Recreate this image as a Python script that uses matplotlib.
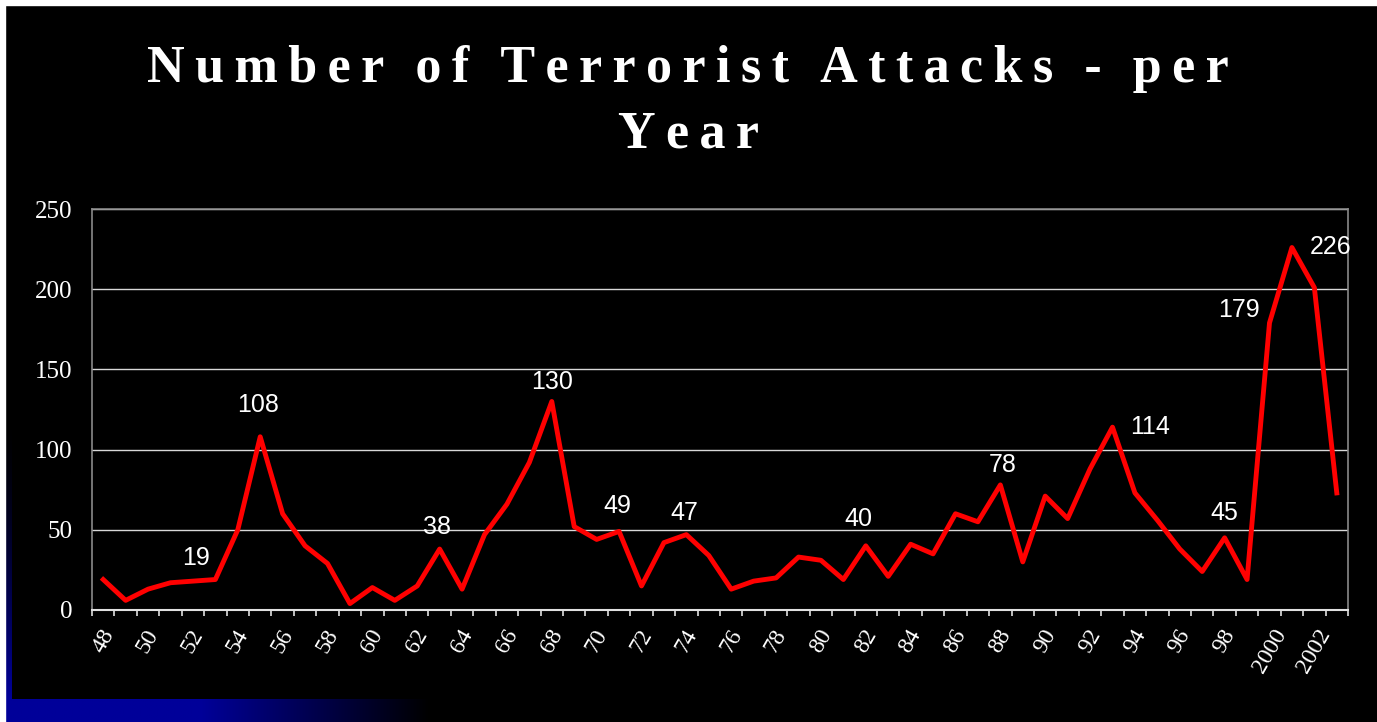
import numpy as np
import matplotlib.pyplot as plt

# Terrorist attacks per year, 1948-2003
years = list(range(1948, 2004))
attacks = [19, 6, 13, 17, 18, 19, 50, 108, 60, 40, 29, 4, 14, 6, 15, 38,
           13, 47, 66, 92, 130, 52, 44, 49, 15, 42, 47, 34, 13, 18, 20, 33,
           31, 19, 40, 21, 41, 35, 60, 55, 78, 30, 71, 57, 88, 114, 73, 56,
           38, 24, 45, 19, 179, 226, 201, 73]
tick_labels = ["48", "50", "52", "54", "56", "58", "60", "62", "64", "66",
               "68", "70", "72", "74", "76", "78", "80", "82", "84", "86",
               "88", "90", "92", "94", "96", "98", "2000", "2002"]
labelled_years = [1953, 1955, 1963, 1968, 1971, 1974, 1982, 1988, 1993,
                  1998, 2000, 2001]

# label offsets in pixels (dx, dy up)
label_offsets = {1953: (-19, 22), 1955: (-2, 32), 1963: (-3, 22),
                 1968: (0, 19), 1971: (-2, 25), 1974: (-2, 22),
                 1982: (-7, 27), 1988: (2, 20), 1993: (38, 0),
                 1998: (0, 25), 2000: (-31, 13), 2001: (39, 0)}

W, H = 1377, 722
fig = plt.figure(figsize=(W / 100, H / 100), dpi=100, facecolor="black")

# slide background decorations (pixel coordinates)
bg = fig.add_axes([0, 0, 1, 1], zorder=0)
bg.set_xlim(0, W)
bg.set_ylim(H, 0)
bg.axis("off")
bg.set_facecolor("black")
xs = np.linspace(0, 1, 300)
g = np.clip((430 - (5 + xs * 425)) / 230, 0, 1)
strip = np.zeros((1, 300, 3))
strip[0, :, 2] = 0.6 * g
bg.imshow(strip, extent=(5, 430, H, 699), aspect="auto", interpolation="bilinear")
ys = np.linspace(0, 1, 200)
side = np.zeros((200, 1, 3))
side[:, 0, 2] = 0.6 * ys ** 1.5
bg.imshow(side, extent=(5, 12, 699, 420), aspect="auto", interpolation="bilinear")
bg.add_patch(plt.Rectangle((0, 0), W, 5, color="white"))
bg.add_patch(plt.Rectangle((0, 0), 5, H, color="white"))

# main chart
ax = fig.add_axes([92 / W, 1 - 610 / H, (1348 - 92) / W, (610 - 209) / H], zorder=1)
ax.set_facecolor("black")
x = np.arange(len(years))
ax.plot(x, attacks, color="#ff0000", lw=3.5, solid_joinstyle="round", zorder=3)

ax.set_ylim(0, 250)
ax.set_yticks(range(0, 251, 50))
ax.yaxis.grid(True, color="#d8d8d8", lw=1)
ax.set_axisbelow(True)
ax.set_xlim(-0.5, len(years) - 0.5)

ax.set_xticks(x[::2])
ax.set_xticklabels(tick_labels, rotation=60, ha="center",
                   family="Liberation Serif", fontsize=17, color="white")
ax.set_xticks(np.arange(-0.5, len(years), 1), minor=True)
ax.tick_params(axis="x", which="major", length=0, pad=11)
ax.tick_params(axis="x", which="minor", length=4, width=1.2, color="#e0e0e0")
ax.tick_params(axis="y", length=0, pad=14, labelsize=18, labelcolor="white")
for t in ax.get_yticklabels():
    t.set_family("Liberation Serif")

for side_name in ["left", "top", "right"]:
    ax.spines[side_name].set_color("#8a8a8a")
    ax.spines[side_name].set_linewidth(1.2)
ax.spines["bottom"].set_color("#e0e0e0")
ax.spines["bottom"].set_linewidth(1.5)

for yr in labelled_years:
    i = years.index(yr)
    dx, dy = label_offsets[yr]
    ax.annotate(str(attacks[i]), (i, attacks[i]), xytext=(dx * 0.72, dy * 0.72),
                textcoords="offset points", ha="center", va="center",
                color="white", fontsize=18, family="Liberation Sans", zorder=4)

# letter-spaced title (thin spaces between letters, wider between words)
title_lines = ["Number of Terrorist Attacks - per", "Year"]
def spaced(s):
    return "\u2009\u2009\u2009".join("\u2009".join(w) for w in s.split(" "))
fig.text(688 / W, 1 - 82 / H, spaced(title_lines[0]), ha="center", va="baseline",
         fontsize=37.5, fontweight="bold", family="Liberation Serif", color="white")
fig.text(688 / W, 1 - 147 / H, spaced(title_lines[1]), ha="center", va="baseline",
         fontsize=37.5, fontweight="bold", family="Liberation Serif", color="white")

fig.savefig("out.png", dpi=100, facecolor="black")
